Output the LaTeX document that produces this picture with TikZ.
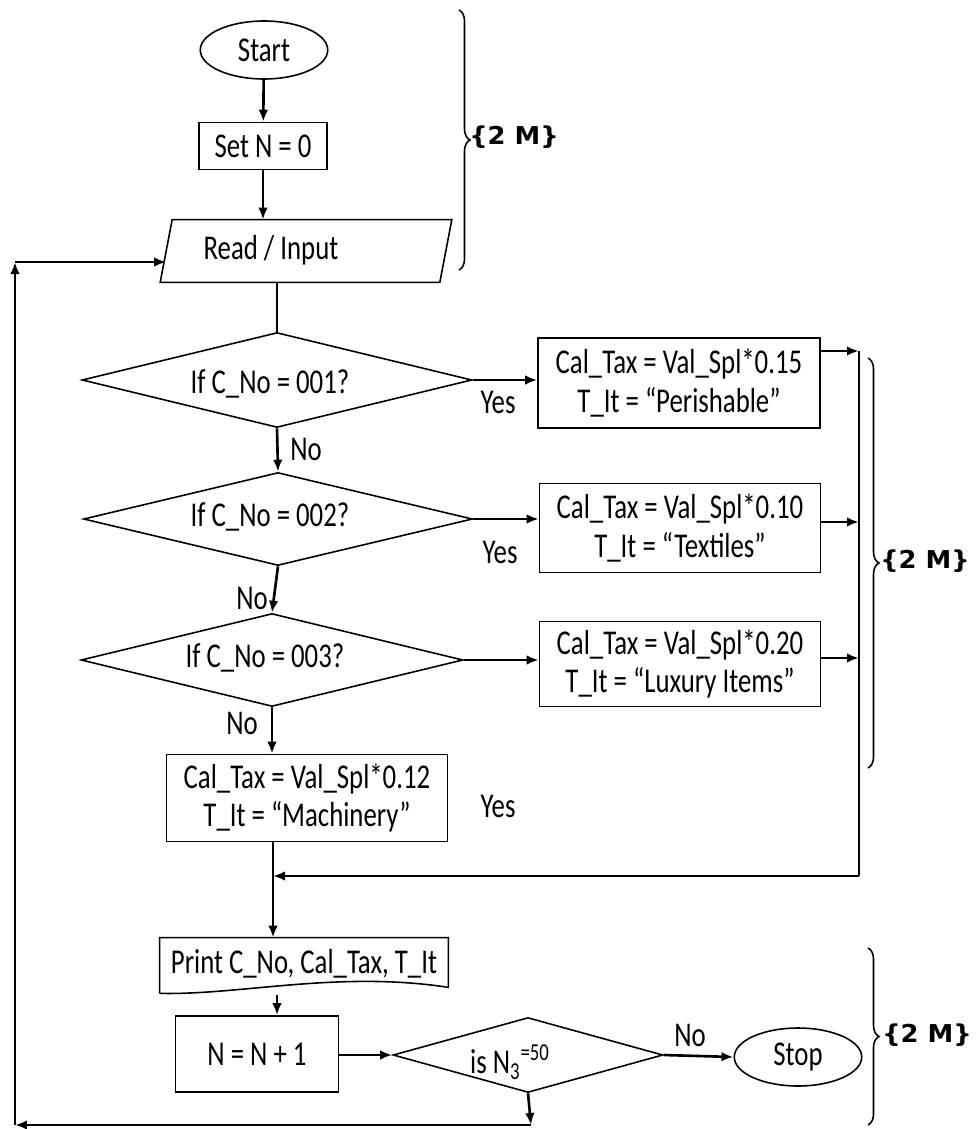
\documentclass[tikz,border=0pt]{standalone}
\usepackage{fontspec}
\setmainfont{Carlito}[FakeStretch=0.77]
\newfontfamily\markfont{DejaVu Sans}[FakeStretch=1.05]
\usepackage{tikz}
\usetikzlibrary{arrows.meta,shapes.geometric,positioning,calc,decorations.pathreplacing}

\begin{document}
\begin{tikzpicture}[x=0.02cm,y=-0.02cm,
    font=\fontsize{19.8pt}{22pt}\selectfont,
    >={Latex[length=0.24cm,width=0.19cm]},
    every node/.style={inner sep=0pt},
    term/.style={draw,ellipse,line width=0.9pt,minimum width=2.55cm,minimum height=1.16cm},
    procbox/.style={draw,rectangle,line width=0.9pt,align=center},
    decision/.style={draw,diamond,line width=0.9pt},
    flow/.style={->,line width=1.5pt},
    wire/.style={line width=1.5pt},
    marks/.style={font=\markfont\bfseries\fontsize{14pt}{16pt}\selectfont},
    bracket/.style={decorate,decoration={brace,amplitude=0.22cm},line width=0.9pt}]
    \useasboundingbox (0,0) rectangle (976,1129);

    % Start and input
    \node[term] (start) at (264,50) {Start};
    \node[procbox,minimum width=2.56cm,minimum height=0.94cm] (setn) at (263,146) {Set N = 0};
    \node[minimum width=5.58cm,minimum height=1.24cm] (read) at (306,251) {};
    \draw[line width=0.9pt] ([xshift=-0.12cm]read.south west) -- ([xshift=-0.12cm]read.south east)
        -- ([xshift=0.12cm]read.north east) -- ([xshift=0.12cm]read.north west) -- cycle;
    \node at (271,250) {Read / Input};

    \draw[flow] (start) -- (setn);
    \draw[flow] (setn.south) -- (setn.south |- read.north);

    % Category checks
    \node[decision,minimum width=7.8cm,minimum height=1.9cm] (chk1) at (277,380) {};
    \node at (270,384) {If C\_No = 001?};
    \node[decision,minimum width=7.78cm,minimum height=1.86cm] (chk2) at (278,519) {};
    \node at (270,517) {If C\_No = 002?};
    \node[decision,minimum width=7.64cm,minimum height=1.86cm] (chk3) at (272,660) {};
    \node at (265,658) {If C\_No = 003?};

    \draw[wire] (chk1.north |- read.south) -- (chk1.north);
    \draw[flow] (chk1.south) -- (chk2.north);
    \draw[flow] (chk2.south) -- (chk3.north);

    % Tax boxes
    \node[procbox,minimum width=5.64cm,minimum height=1.8cm] (tax1) at (679,383)
        {Cal\_Tax = Val\_Spl*0.15\\T\_It = “Perishable”};
    \node[procbox,minimum width=5.62cm,minimum height=1.78cm] (tax2) at (680,528)
        {Cal\_Tax = Val\_Spl*0.10\\T\_It = “Textiles”};
    \node[procbox,minimum width=5.62cm,minimum height=1.7cm] (tax3) at (680,664)
        {Cal\_Tax = Val\_Spl*0.20\\T\_It = “Luxury Items”};
    \node[procbox,minimum width=5.62cm,minimum height=1.74cm] (tax4) at (307,798)
        {Cal\_Tax = Val\_Spl*0.12\\T\_It = “Machinery”};

    \draw[flow] (chk1.east) -- (chk1.east -| tax1.west);
    \draw[flow] (chk2.east) -- (chk2.east -| tax2.west);
    \draw[flow] (chk3.east) -- (chk3.east -| tax3.west);
    \draw[flow] (chk3.south) -- (chk3.south |- tax4.north);

    \node (yes1) at (498,402) {Yes};
    \node (no1) at (306,449) {No};
    \node (yes2) at (500,552) {Yes};
    \node (no2) at (252,598) {No};
    \node (no3) at (242,723) {No};
    \node (yes4) at (498,806) {Yes};

    % Collecting line
    \coordinate (j1) at (859,351);
    \coordinate (j2) at (859,522);
    \coordinate (j3) at (859,658);
    \coordinate (j4) at (859,876);
    \coordinate (mj) at (273,876);
    \draw[flow] (tax1.east |- j1) -- (j1);
    \draw[flow] (tax2.east |- j2) -- (j2);
    \draw[flow] (tax3.east |- j3) -- (j3);
    \draw[wire] (j1) -- (j4);
    \draw[flow] (j4) -- (mj);

    % Output
    \node[minimum width=5.76cm,minimum height=1.04cm] (print) at (304,964) {Print C\_No, Cal\_Tax, T\_It};
    \draw[line width=0.9pt] ([yshift=-0.06cm]print.south west) -- (print.north west) -- (print.north east)
        -- ([yshift=0.06cm]print.south east) .. controls +(-2.2cm,0.34cm) and +(1.6cm,-0.04cm) .. ([yshift=-0.06cm]print.south west);
    \draw[flow] (mj |- tax4.south) -- (mj |- print.north);

    % Counter and stop
    \node[procbox,minimum width=3.26cm,minimum height=1.52cm] (count) at (257,1054) {N = N + 1};
    \node[decision,minimum width=5.4cm,minimum height=1.5cm] (last) at (528,1055) {};
    \node at (510,1062) {is N\textsubscript{3}\textsuperscript{=50}};
    \node[term] (stop) at (798,1057) {Stop};
    \node (no5) at (690,1035) {No};

    \coordinate (pc) at (277,995);
    \draw[flow] (pc) -- (pc |- count.north);
    \draw[flow] (count.east |- last.west) -- (last.west);
    \draw[flow] (last.east) -- (stop.west);

    % Loop back
    \coordinate (b1) at (531,1125);
    \coordinate (b2) at (15,1125);
    \coordinate (b3) at (15,262);
    \draw[flow] (last.south) -- (b1);
    \draw[flow] (b1) -- (b2);
    \draw[flow] (b2) -- (b3);
    \draw[flow] (b3) -- (b3 -| read.west);

    % Marks
    \draw[bracket] (459,10) -- (459,270);
    \node[marks] (m1) at (514,137) {\{2 M\}};
    \draw[bracket] (868,358) -- (868,768);
    \node[marks] (m2) at (925,561) {\{2 M\}};
    \draw[bracket] (868,948) -- (868,1125);
    \node[marks] (m3) at (927,1035) {\{2 M\}};
\end{tikzpicture}
\end{document}
